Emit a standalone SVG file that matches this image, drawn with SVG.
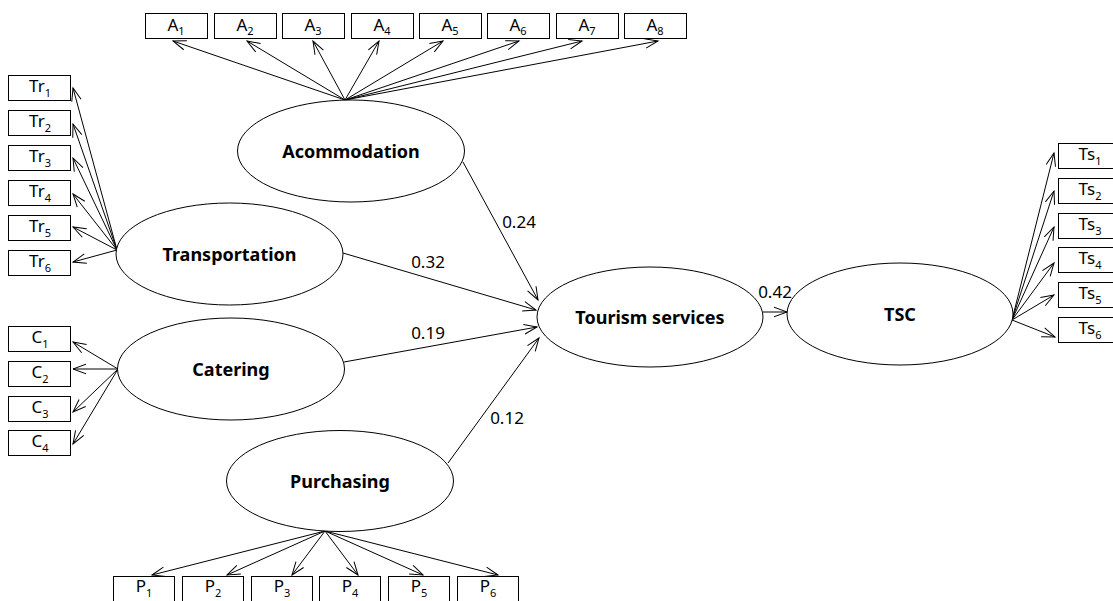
<svg xmlns="http://www.w3.org/2000/svg" width="1113" height="601" viewBox="0 0 1113 601">
<defs>
<marker id="arr" markerUnits="userSpaceOnUse" markerWidth="16" markerHeight="12" viewBox="-14 -6 16 12" refX="0" refY="0" orient="auto">
<path d="M-13,-4.8 L0,0 L-13,4.8" fill="none" stroke="#000" stroke-width="1"/>
</marker>
<style>
.box{fill:#fff;stroke:#000;stroke-width:1}
.ell{fill:#fff;stroke:#000;stroke-width:1}
.bl{font-family:"Noto Sans","Open Sans",sans-serif;font-size:17px;text-anchor:middle;fill:#000}
.sub{font-size:11px}
.nl{font-family:"Noto Sans","Open Sans",sans-serif;font-size:18px;font-weight:bold;text-anchor:middle;fill:#000}
.lab{font-family:"Noto Sans","Open Sans",sans-serif;font-size:17px;text-anchor:middle;fill:#000}
.c{stroke:#000;stroke-width:1;fill:none;marker-end:url(#arr)}
</style>
</defs>
<rect width="1113" height="601" fill="#fff"/>
<g id="connectors">
<line class="c" x1="345" y1="100" x2="173" y2="41"/>
<line class="c" x1="345" y1="100" x2="247" y2="41"/>
<line class="c" x1="345" y1="100" x2="313" y2="41"/>
<line class="c" x1="345" y1="100" x2="379" y2="41"/>
<line class="c" x1="345" y1="100" x2="443" y2="41"/>
<line class="c" x1="345" y1="100" x2="519" y2="41"/>
<line class="c" x1="345" y1="100" x2="582" y2="41"/>
<line class="c" x1="345" y1="100" x2="658" y2="41"/>
<line class="c" x1="117" y1="250" x2="73" y2="88"/>
<line class="c" x1="117" y1="250" x2="73" y2="124"/>
<line class="c" x1="117" y1="250" x2="73" y2="158"/>
<line class="c" x1="117" y1="250" x2="73" y2="194"/>
<line class="c" x1="117" y1="250" x2="73" y2="227"/>
<line class="c" x1="117" y1="250" x2="73" y2="262"/>
<line class="c" x1="118" y1="369" x2="73" y2="342"/>
<line class="c" x1="118" y1="369" x2="73" y2="369"/>
<line class="c" x1="118" y1="369" x2="73" y2="412"/>
<line class="c" x1="118" y1="369" x2="73" y2="444"/>
<line class="c" x1="325" y1="531" x2="152" y2="575"/>
<line class="c" x1="325" y1="531" x2="227" y2="575"/>
<line class="c" x1="325" y1="531" x2="292" y2="575"/>
<line class="c" x1="325" y1="531" x2="358" y2="575"/>
<line class="c" x1="325" y1="531" x2="423" y2="575"/>
<line class="c" x1="325" y1="531" x2="498" y2="575"/>
<line class="c" x1="1012" y1="320" x2="1054" y2="153"/>
<line class="c" x1="1012" y1="320" x2="1054" y2="191"/>
<line class="c" x1="1012" y1="320" x2="1054" y2="227"/>
<line class="c" x1="1012" y1="320" x2="1054" y2="263"/>
<line class="c" x1="1012" y1="320" x2="1054" y2="295"/>
<line class="c" x1="1012" y1="320" x2="1055" y2="337"/>
<line class="c" x1="463" y1="162" x2="538" y2="300"/>
<line class="c" x1="343" y1="253" x2="536" y2="310"/>
<line class="c" x1="344" y1="362" x2="537" y2="327"/>
<line class="c" x1="448" y1="463" x2="539" y2="338"/>
<line class="c" x1="763" y1="312" x2="787" y2="312"/>
<text class="lab" x="519" y="228">0.24</text>
<text class="lab" x="428" y="268">0.32</text>
<text class="lab" x="428" y="339">0.19</text>
<text class="lab" x="507" y="424">0.12</text>
<text class="lab" x="775" y="298">0.42</text>
</g>
<g id="A1"><rect class="box" x="145.5" y="13.5" width="62" height="25"/><text class="bl" x="176" y="31">A<tspan class="sub" dy="4">1</tspan></text></g>
<g id="A2"><rect class="box" x="214.5" y="13.5" width="62" height="25"/><text class="bl" x="245" y="31">A<tspan class="sub" dy="4">2</tspan></text></g>
<g id="A3"><rect class="box" x="282.5" y="13.5" width="62" height="25"/><text class="bl" x="313" y="31">A<tspan class="sub" dy="4">3</tspan></text></g>
<g id="A4"><rect class="box" x="351.5" y="13.5" width="62" height="25"/><text class="bl" x="382" y="31">A<tspan class="sub" dy="4">4</tspan></text></g>
<g id="A5"><rect class="box" x="419.5" y="13.5" width="62" height="25"/><text class="bl" x="450" y="31">A<tspan class="sub" dy="4">5</tspan></text></g>
<g id="A6"><rect class="box" x="487.5" y="13.5" width="62" height="25"/><text class="bl" x="518" y="31">A<tspan class="sub" dy="4">6</tspan></text></g>
<g id="A7"><rect class="box" x="556.5" y="13.5" width="62" height="25"/><text class="bl" x="587" y="31">A<tspan class="sub" dy="4">7</tspan></text></g>
<g id="A8"><rect class="box" x="624.5" y="13.5" width="62" height="25"/><text class="bl" x="655" y="31">A<tspan class="sub" dy="4">8</tspan></text></g>
<g id="Tr1"><rect class="box" x="8.5" y="75.5" width="62" height="25"/><text class="bl" x="40" y="92">Tr<tspan class="sub" dy="5">1</tspan></text></g>
<g id="Tr2"><rect class="box" x="8.5" y="110.5" width="62" height="25"/><text class="bl" x="40" y="127">Tr<tspan class="sub" dy="5">2</tspan></text></g>
<g id="Tr3"><rect class="box" x="8.5" y="145.5" width="62" height="25"/><text class="bl" x="40" y="162">Tr<tspan class="sub" dy="5">3</tspan></text></g>
<g id="Tr4"><rect class="box" x="8.5" y="180.5" width="62" height="25"/><text class="bl" x="40" y="197">Tr<tspan class="sub" dy="5">4</tspan></text></g>
<g id="Tr5"><rect class="box" x="8.5" y="215.5" width="62" height="25"/><text class="bl" x="40" y="232">Tr<tspan class="sub" dy="5">5</tspan></text></g>
<g id="Tr6"><rect class="box" x="8.5" y="250.5" width="62" height="25"/><text class="bl" x="40" y="267">Tr<tspan class="sub" dy="5">6</tspan></text></g>
<g id="C1"><rect class="box" x="8.5" y="326.5" width="62" height="25"/><text class="bl" x="40" y="343">C<tspan class="sub" dy="5">1</tspan></text></g>
<g id="C2"><rect class="box" x="8.5" y="361.5" width="62" height="25"/><text class="bl" x="40" y="378">C<tspan class="sub" dy="5">2</tspan></text></g>
<g id="C3"><rect class="box" x="8.5" y="396.5" width="62" height="25"/><text class="bl" x="40" y="413">C<tspan class="sub" dy="5">3</tspan></text></g>
<g id="C4"><rect class="box" x="8.5" y="430.5" width="62" height="25"/><text class="bl" x="40" y="447">C<tspan class="sub" dy="5">4</tspan></text></g>
<g id="P1"><rect class="box" x="113.5" y="576.5" width="61" height="25"/><text class="bl" x="144" y="592">P<tspan class="sub" dy="5">1</tspan></text></g>
<g id="P2"><rect class="box" x="182.5" y="576.5" width="61" height="25"/><text class="bl" x="213" y="592">P<tspan class="sub" dy="5">2</tspan></text></g>
<g id="P3"><rect class="box" x="251.5" y="576.5" width="61" height="25"/><text class="bl" x="282" y="592">P<tspan class="sub" dy="5">3</tspan></text></g>
<g id="P4"><rect class="box" x="319.5" y="576.5" width="61" height="25"/><text class="bl" x="350" y="592">P<tspan class="sub" dy="5">4</tspan></text></g>
<g id="P5"><rect class="box" x="388.5" y="576.5" width="61" height="25"/><text class="bl" x="419" y="592">P<tspan class="sub" dy="5">5</tspan></text></g>
<g id="P6"><rect class="box" x="457.5" y="576.5" width="61" height="25"/><text class="bl" x="488" y="592">P<tspan class="sub" dy="5">6</tspan></text></g>
<g id="Ts1"><rect class="box" x="1058.5" y="143.5" width="62" height="25"/><text class="bl" x="1090" y="160">Ts<tspan class="sub" dy="5">1</tspan></text></g>
<g id="Ts2"><rect class="box" x="1058.5" y="178.5" width="62" height="25"/><text class="bl" x="1090" y="195">Ts<tspan class="sub" dy="5">2</tspan></text></g>
<g id="Ts3"><rect class="box" x="1058.5" y="213.5" width="62" height="25"/><text class="bl" x="1090" y="230">Ts<tspan class="sub" dy="5">3</tspan></text></g>
<g id="Ts4"><rect class="box" x="1058.5" y="247.5" width="62" height="25"/><text class="bl" x="1090" y="264">Ts<tspan class="sub" dy="5">4</tspan></text></g>
<g id="Ts5"><rect class="box" x="1058.5" y="282.5" width="62" height="25"/><text class="bl" x="1090" y="299">Ts<tspan class="sub" dy="5">5</tspan></text></g>
<g id="Ts6"><rect class="box" x="1058.5" y="317.5" width="62" height="25"/><text class="bl" x="1090" y="334">Ts<tspan class="sub" dy="5">6</tspan></text></g>
<g id="Acommodation"><ellipse class="ell" cx="351" cy="151" rx="113.5" ry="51"/><text class="nl" x="351" y="158">Acommodation</text></g>
<g id="Transportation"><ellipse class="ell" cx="229.5" cy="254" rx="113.5" ry="51"/><text class="nl" x="229.5" y="261">Transportation</text></g>
<g id="Catering"><ellipse class="ell" cx="231" cy="369" rx="113.5" ry="51"/><text class="nl" x="231" y="376">Catering</text></g>
<g id="Purchasing"><ellipse class="ell" cx="340" cy="481" rx="113.5" ry="50.5"/><text class="nl" x="340" y="488">Purchasing</text></g>
<g id="TourismServices"><ellipse class="ell" cx="650" cy="317" rx="113" ry="50"/><text class="nl" x="650" y="324">Tourism services</text></g>
<g id="TSC"><ellipse class="ell" cx="900" cy="314" rx="113" ry="51"/><text class="nl" x="900" y="321">TSC</text></g>
</svg>
